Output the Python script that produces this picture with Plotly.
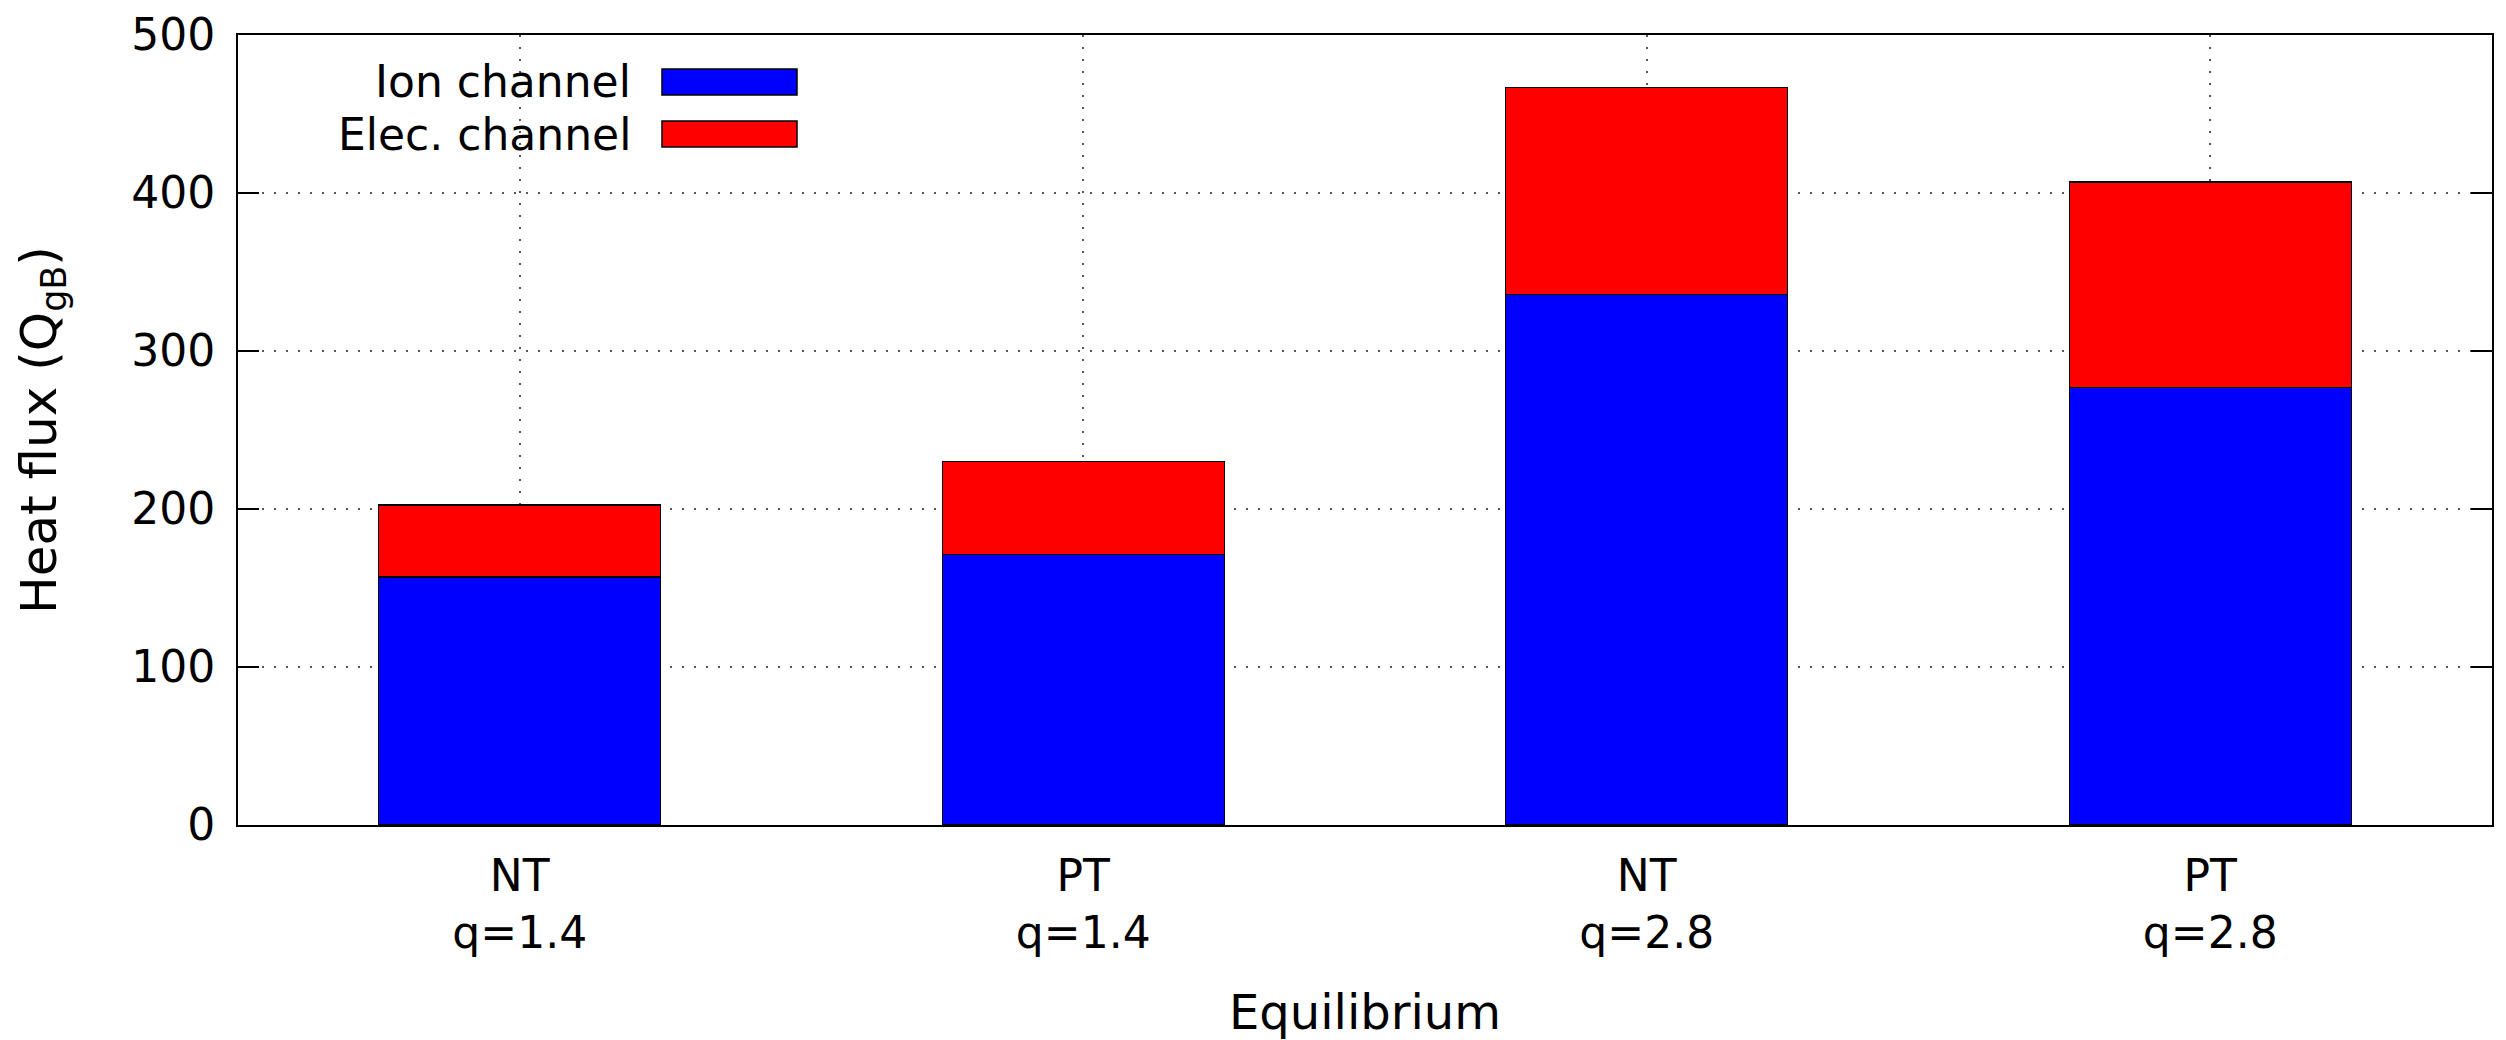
import plotly.graph_objects as go

categories = ["NT<br>q=1.4", "PT<br>q=1.4", "NT<br>q=2.8", "PT<br>q=2.8"]
ion_channel = [157, 171, 336, 277]
elec_channel = [45.5, 59, 131, 130]
series_names = ["Ion channel", "Elec. channel"]
series_colors = ["#0000ff", "#ff0000"]
y_ticks = [0, 100, 200, 300, 400, 500]

# page body has an 8px margin, so the figure is shrunk and offset accordingly
OFF = 8
W, H = 2506 - OFF, 1040 - OFF
L, R, T, B = 238 - OFF, 14, 35 - OFF, 215
FONT = "DejaVu Sans"
GRID = dict(showgrid=True, gridcolor="#555555", griddash="2px,10px", gridwidth=1.5)

fig = go.Figure()
for name, vals, col in zip(series_names, [ion_channel, elec_channel], series_colors):
    fig.add_trace(go.Bar(
        x=categories, y=vals, name=name, width=0.5,
        marker=dict(color=col, line=dict(color="black", width=1.2)),
        showlegend=False,
    ))

pw = W - L - R
ph = H - T - B
def px_x(x):
    return (x - OFF - L) / pw
def px_y(y):
    return (H - B - (y - OFF)) / ph

# legend drawn gnuplot-style: label then colour sample
legend_rows = [(82, 69, 95), (134, 121, 147)]
for (cy, y0, y1), name, col in zip(legend_rows, series_names, series_colors):
    fig.add_annotation(
        xref="paper", yref="paper", x=px_x(633), y=px_y(cy),
        text=name, showarrow=False, xanchor="right", yanchor="middle",
        font=dict(family=FONT, size=44, color="black"),
    )
    fig.add_shape(
        type="rect", xref="paper", yref="paper",
        x0=px_x(662), x1=px_x(797), y0=px_y(y1), y1=px_y(y0),
        fillcolor=col, line=dict(color="black", width=1.5),
    )

fig.update_layout(
    width=W, height=H,
    margin=dict(l=L, r=R, t=T, b=B, autoexpand=False),
    barmode="stack",
    plot_bgcolor="white", paper_bgcolor="white",
    font=dict(family=FONT, size=44, color="black"),
    showlegend=False,
)
fig.update_xaxes(
    range=[-0.5, 3.5], automargin=False,
    showline=True, linecolor="black", linewidth=2, mirror=True,
    ticks="", **GRID,
    tickfont=dict(family=FONT, size=44),
    ticklabelstandoff=11,
    title=dict(text="Equilibrium", font=dict(family=FONT, size=48), standoff=55),
)
fig.update_yaxes(
    range=[0, 500], tickvals=y_ticks, automargin=False,
    showline=True, linecolor="black", linewidth=2, mirror="ticks",
    ticks="inside", ticklen=21, tickwidth=2, tickcolor="black",
    **GRID,
    zeroline=False,
    tickfont=dict(family=FONT, size=44),
    ticklabelstandoff=12,
    title=dict(text="Heat flux (Q<sub>gB</sub>)", font=dict(family=FONT, size=50), standoff=59),
)

fig.write_html("out.html")
